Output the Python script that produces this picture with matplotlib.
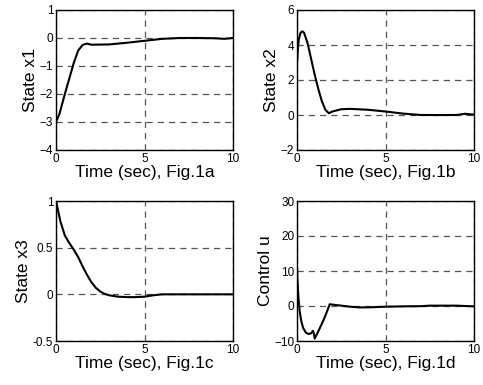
import matplotlib
matplotlib.use("Agg")
import matplotlib.pyplot as plt

plt.rcParams['font.family'] = ['Liberation Sans', 'DejaVu Sans']

# estado x1
t1 = [0, 0.2, 0.5, 0.75, 1.0, 1.25, 1.5, 1.75, 2, 3, 4, 5, 6, 7, 8, 9, 9.5, 10]
x1 = [-3, -2.7, -2.0, -1.45, -0.9, -0.45, -0.25, -0.2, -0.24, -0.23, -0.17, -0.1,
      -0.03, 0, 0, -0.01, -0.03, 0]

# estado x2
t2 = [0, 0.05, 0.1, 0.2, 0.3, 0.4, 0.6, 0.8, 1.0, 1.2, 1.4, 1.6, 1.8, 2.0, 2.5,
      3, 4, 5, 6, 7, 8, 9, 9.5, 10]
x2 = [2.9, 3.8, 4.3, 4.7, 4.78, 4.7, 4.1, 3.2, 2.3, 1.5, 0.8, 0.3, 0.1, 0.2, 0.33,
      0.35, 0.3, 0.2, 0.08, 0.0, 0.0, 0.0, 0.07, 0.02]

# estado x3
t3 = [0, 0.25, 0.5, 0.75, 1.0, 1.25, 1.5, 1.75, 2.0, 2.25, 2.5, 2.75, 3, 3.5, 4,
      4.5, 5, 5.5, 6, 7, 8, 9, 10]
x3 = [1.0, 0.78, 0.63, 0.55, 0.48, 0.40, 0.30, 0.21, 0.13, 0.07, 0.03, 0.005,
      -0.01, -0.025, -0.03, -0.03, -0.025, -0.01, 0.0, 0, 0, 0, 0]

# control u
t4 = [0, 0.03, 0.08, 0.15, 0.25, 0.35, 0.5, 0.65, 0.8, 0.9, 0.95, 1.0, 1.1, 1.3,
      1.5, 1.7, 1.85, 2.0, 2.5, 3, 3.5, 4, 5, 6, 7, 7.5, 8, 9, 10]
u = [11, 7, 2.5, -1.5, -4.5, -6.3, -7.6, -8.0, -7.8, -7.1, -7.8, -9.3, -8.3, -6.2,
     -4.0, -1.5, 0.5, 0.4, 0.1, -0.2, -0.4, -0.4, -0.2, -0.1, -0.05, 0.1, 0.1,
     0.1, -0.1]

paneles = [
    (t1, x1, "State x1", "Time (sec), Fig.1a", (-4, 1), [-4, -3, -2, -1, 0, 1], None),
    (t2, x2, "State x2", "Time (sec), Fig.1b", (-2, 6), [-2, 0, 2, 4, 6], None),
    (t3, x3, "State x3", "Time (sec), Fig.1c", (-0.5, 1), [-0.5, 0, 0.5, 1],
     ["-0.5", "0", "0.5", "1"]),
    (t4, u, "Control u", "Time (sec), Fig.1d", (-10, 30), [-10, 0, 10, 20, 30], None),
]

W, H = 483, 385
pos = [(56, 10), (297, 10), (56, 201), (297, 201)]
fig = plt.figure(figsize=(W / 100, H / 100), dpi=100)

for (t, y, ylab, xlab, ylim, yt, ytl), (px, py) in zip(paneles, pos):
    ax = fig.add_axes([px / W, 1 - (py + 140) / H, 177 / W, 140 / H])
    ax.plot(t, y, color="black", lw=1.5)
    ax.set_xlim(0, 10)
    ax.set_ylim(*ylim)
    ax.set_xticks([0, 5, 10])
    ax.set_yticks(yt)
    if ytl:
        ax.set_yticklabels(ytl)
    ax.grid(True, linestyle=(0, (5, 4)), color="#555555", lw=0.9)
    ax.tick_params(length=0, labelsize=8.5, pad=2)
    for s in ax.spines.values():
        s.set_linewidth(1.0)
    ax.set_xlabel(xlab, fontsize=12.5, labelpad=0)
    ax.set_ylabel(ylab, fontsize=12.5, labelpad=1)

fig.savefig("out.png", dpi=100)
